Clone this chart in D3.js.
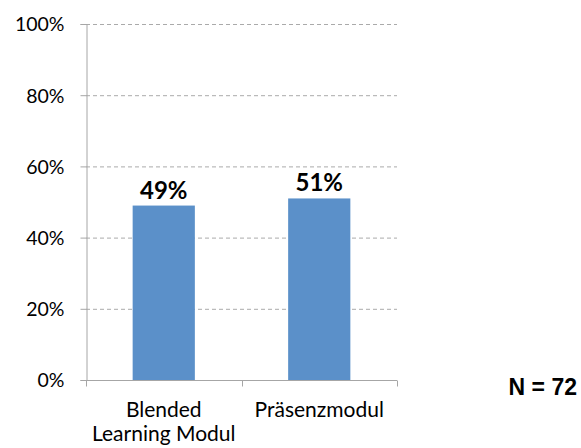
<!DOCTYPE html>
<html><head><meta charset="utf-8">
<script src="https://cdn.jsdelivr.net/npm/d3@7"></script>
<style>body{margin:0;background:#fff}svg{display:block}</style>
</head><body>
<svg id="c" width="581" height="448"></svg>
<script>
const categories = [["Blended","Learning Modul"],["Präsenzmodul"]];
const values = [49, 51];
const yTicks = [0,20,40,60,80,100];
const note = "N = 72";

const svg = d3.select("#c");
const x0 = 86, x1 = 397, yTop = 24, yBot = 380;
const x = d3.scaleBand().domain(d3.range(categories.length)).range([x0,x1]).paddingInner(0.6).paddingOuter(0.3);
const y = d3.scaleLinear().domain([0,100]).range([yBot,yTop]);
const font = "Lato, 'Open Sans', sans-serif";

// grid
svg.append("g").selectAll("line").data(yTicks.filter(d=>d>0)).join("line")
  .attr("x1",x0).attr("x2",x1).attr("y1",d=>y(d)+0.5).attr("y2",d=>y(d)+0.5)
  .attr("stroke","#aaa").attr("stroke-width",1).attr("stroke-dasharray","4,3");

// y axis
const ya = svg.append("g").attr("transform",`translate(${x0+0.5},0)`)
  .call(d3.axisLeft(y).tickValues(yTicks).tickSize(6).tickFormat(d=>d+"%"));
ya.select(".domain").attr("stroke","#a6a6a6");
ya.selectAll(".tick line").attr("stroke","#a6a6a6");
ya.selectAll(".tick text").attr("font-family",font).attr("font-size",19.5).attr("fill","#000").attr("x",-22).attr("dy","0.35em");

// x axis
const xa = svg.append("g").attr("transform",`translate(0,${yBot+0.5})`);
xa.append("line").attr("x1",x0).attr("x2",x1).attr("stroke","#a6a6a6");
const bounds = [x0, ...d3.range(categories.length).map(i=>x0 + (i+1)*(x1-x0)/categories.length)];
xa.selectAll("line.t").data(bounds).join("line").attr("class","t")
  .attr("x1",d=>Math.round(d)+0.5).attr("x2",d=>Math.round(d)+0.5).attr("y1",0).attr("y2",6).attr("stroke","#a6a6a6");

// bars
svg.append("g").selectAll("rect").data(values).join("rect")
  .attr("x",(d,i)=>x(i)).attr("width",x.bandwidth())
  .attr("y",d=>y(d)).attr("height",d=>yBot-y(d)).attr("fill","#5b90c9");

// value labels
svg.append("g").selectAll("text").data(values).join("text")
  .attr("x",(d,i)=>x(i)+x.bandwidth()/2).attr("y",d=>y(d)-7)
  .attr("text-anchor","middle").attr("font-family",font).attr("font-weight","bold")
  .attr("font-size",24).attr("fill","#000").text(d=>d+"%");

// category labels
const cl = svg.append("g").selectAll("text").data(categories).join("text")
  .attr("text-anchor","middle").attr("font-family",font).attr("font-size",21).attr("fill","#000");
cl.selectAll("tspan").data((d,i)=>d.map(s=>({s,i}))).join("tspan")
  .attr("x",d=>x(d.i)+x.bandwidth()/2).attr("y",(d,j)=>417+j*24).text(d=>d.s);

// note
svg.append("text").attr("x",577).attr("y",395).attr("text-anchor","end")
  .attr("font-family","'Liberation Sans', Arial, sans-serif").attr("font-weight","bold")
  .attr("font-size",23).attr("fill","#000").text(note);
</script>
</body></html>
